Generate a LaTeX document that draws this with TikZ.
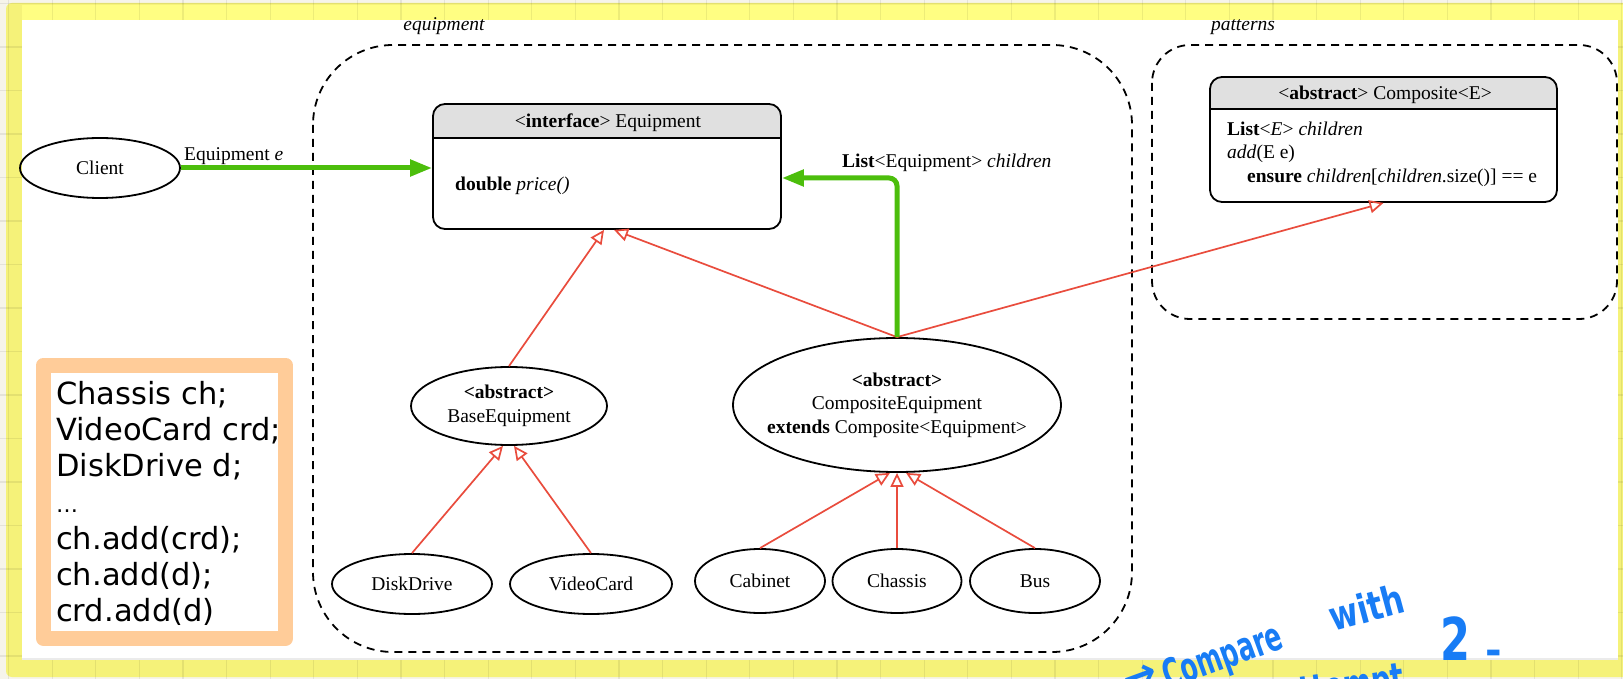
\documentclass[tikz,border=0pt]{standalone}
\usepackage{fontspec}
\setmainfont{Liberation Serif}
\newfontfamily\codefont{DejaVu Sans}
\newfontfamily\handfont{DejaVu Sans}
\usetikzlibrary{arrows.meta,shapes.geometric}

\definecolor{cream}{RGB}{246,244,234}
\definecolor{padyellow}{RGB}{245,242,121}
\definecolor{tabyellow}{RGB}{255,254,130}
\definecolor{inhred}{RGB}{233,76,61}
\definecolor{assocgreen}{RGB}{76,190,12}
\definecolor{headgray}{RGB}{224,224,224}
\definecolor{peach}{RGB}{255,204,153}
\definecolor{inkblue}{RGB}{24,124,245}

\tikzset{
  txt/.style={font=\fontsize{19.5}{23.5}\selectfont, inner sep=0pt},
  cls/.style={ellipse, draw, line width=1.8pt, inner sep=0pt, align=center,
              font=\fontsize{19.5}{23.5}\selectfont},
  classbox/.style={draw, line width=1.8pt, rounded corners=12pt, inner sep=0pt},
  pkg/.style={draw, line width=1.8pt, dash pattern=on 8pt off 6pt},
  inherit/.style={draw=inhred, line width=1.7pt,
                  -{Triangle[open, length=14pt, width=13pt]}},
  assoc/.style={draw=assocgreen, line width=5pt,
                -{Triangle[length=22pt, width=16pt]}},
  gridl/.style={draw=black, opacity=0.07, line width=1.2pt},
  hand/.style={text=inkblue, inner sep=0pt, font=\handfont\bfseries\fontsize{40}{42}\selectfont},
}

\begin{document}
\begin{tikzpicture}[x=1pt, y=-1pt]
\useasboundingbox (0,0) rectangle (1623,679);

% notebook page background with its frame
\fill[cream] (0,0) rectangle (1623,679);
\fill[padyellow, rounded corners=6pt] (6,3) rectangle (1640,677);
\fill[tabyellow] (22,5) rectangle (1623,20);
\foreach \gx in {0,...,37} \draw[gridl] ({8.6+43.6*\gx},0) -- ({8.6+43.6*\gx},679);
\foreach \gy in {0,...,15} \draw[gridl] (0,{3.5+43.5*\gy}) -- (1623,{3.5+43.5*\gy});
\fill[white] (22,20) rectangle (1618,659);
\draw[black!8, line width=1.5pt] (22,659) -- (1618,659);

% packages
\draw[pkg, rounded corners=80pt] (313,45) rectangle (1132,652);
\node[txt, anchor=base, font=\itshape\fontsize{19.5}{23.5}\selectfont] (pkgeq) at (444,31) {equipment};
\draw[pkg, rounded corners=38pt] (1152,45) rectangle (1617,319);
\node[txt, anchor=base, font=\itshape\fontsize{19.5}{23.5}\selectfont] (pkgpat) at (1243,31) {patterns};

% interface Equipment
\begin{scope}
  \clip[rounded corners=12pt] (433,104) rectangle (781,229);
  \fill[headgray] (433,104) rectangle (781,138);
\end{scope}
\node[classbox, minimum width=348pt, minimum height=125pt] (iface) at (607,166.5) {};
\draw[line width=1.8pt] (iface.west |- 0,138) -- (iface.east |- 0,138);
\node[txt, anchor=base] (ifacetitle) at (608,128) {<\textbf{interface}> Equipment};
\node[txt, anchor=base west] (ifacebody) at (455,191) {\textbf{double} \textit{price()}};

% abstract Composite<E>
\begin{scope}
  \clip[rounded corners=12pt] (1210,77) rectangle (1557,202);
  \fill[headgray] (1210,77) rectangle (1557,109);
\end{scope}
\node[classbox, minimum width=347pt, minimum height=125pt] (compE) at (1383.5,139.5) {};
\draw[line width=1.8pt] (compE.west |- 0,109) -- (compE.east |- 0,109);
\node[txt, anchor=base] (compEtitle) at (1385,100) {<\textbf{abstract}> Composite<E>};
\node[txt, anchor=north west, align=left] (compEbody) at (1227,121.7)
  {\textbf{List}<\textit{E}> \textit{children}\\
   \textit{add}(E e)\\
   \hspace*{20pt}\textbf{ensure} \textit{children}[\textit{children}.size()] == e};

% classes
\node[cls, minimum width=160pt, minimum height=60pt] (client) at (100,168) {Client};
\node[cls, minimum width=196pt, minimum height=78pt] (baseeq) at (509,406)
  {\textbf{<abstract>}\\BaseEquipment};
\node[cls, minimum width=328pt, minimum height=134pt] (compeq) at (897,405) {};
\node[txt, align=center] (compeqtext) at (compeq.center)
  {\textbf{<abstract>}\\CompositeEquipment\\\textbf{extends} Composite<Equipment>};
\node[cls, minimum width=160pt, minimum height=60pt] (disk) at (412,584) {DiskDrive};
\node[cls, minimum width=162pt, minimum height=60pt] (video) at (591,584) {VideoCard};
\node[cls, minimum width=130pt, minimum height=64pt] (cabinet) at (760,581) {Cabinet};
\node[cls, minimum width=129pt, minimum height=64pt] (chassis) at (897,581) {Chassis};
\node[cls, minimum width=130pt, minimum height=64pt] (bus) at (1035,581) {Bus};

% generalisations
\draw[inherit] (baseeq.north) -- ([xshift=-3pt]iface.south);
\draw[inherit] (compeq.north) -- ([xshift=7pt]iface.south);
\draw[inherit] (compeq.north) -- (compE.south);
\draw[inherit] (disk.north) -- ([xshift=-6pt]baseeq.south);
\draw[inherit] (video.north) -- ([xshift=5pt]baseeq.south);
\draw[inherit] (cabinet.north) -- ([xshift=-7pt]compeq.south);
\draw[inherit] (chassis.north) -- (compeq.south);
\draw[inherit] (bus.north) -- ([xshift=9pt]compeq.south);

% associations
\draw[assoc] (client) -- (client -| iface.west);
\node[txt, anchor=base west] (clientlbl) at (184,161) {Equipment \textit{e}};
\draw[assoc, rounded corners=8pt] (compeq.north) |- ([yshift=-11.5pt]iface.east);
\node[txt, anchor=base west] (childlbl) at (842,168) {\textbf{List}<Equipment> \textit{children}};

% usage snippet
\node[draw=peach, line width=15pt, line join=round, fill=white,
      minimum width=242pt, minimum height=273.5pt] (codebox) at (164.5,501.75) {};
\node[anchor=north west, align=left, inner sep=0pt,
      font=\codefont\fontsize{30.5}{36.2}\selectfont] (code) at (56,381)
  {Chassis ch;\\VideoCard crd;\\DiskDrive d;\\{\fontsize{22}{36.2}\selectfont …}\\ch.add(crd);\\ch.add(d);\\crd.add(d)};

% handwritten note
\node[hand, anchor=base west, rotate=20] (note0) at (1128,694) {→};
\node[hand, anchor=base west, rotate=20] (note1) at (1168,690) {\scalebox{0.62}[1]{Compare}};
\node[hand, anchor=base west, rotate=15] (note2) at (1333,632) {\scalebox{0.78}[1]{with}};
\node[hand, anchor=base west, rotate=8] (note3) at (1283,708) {\scalebox{0.68}[1]{attempt}};
\node[hand, anchor=base west, font=\handfont\bfseries\fontsize{59}{60}\selectfont] (note4) at (1440,660) {\scalebox{0.73}[1]{2}};
\node[hand, anchor=base west] (note5) at (1485,664) {-};
\end{tikzpicture}
\end{document}
